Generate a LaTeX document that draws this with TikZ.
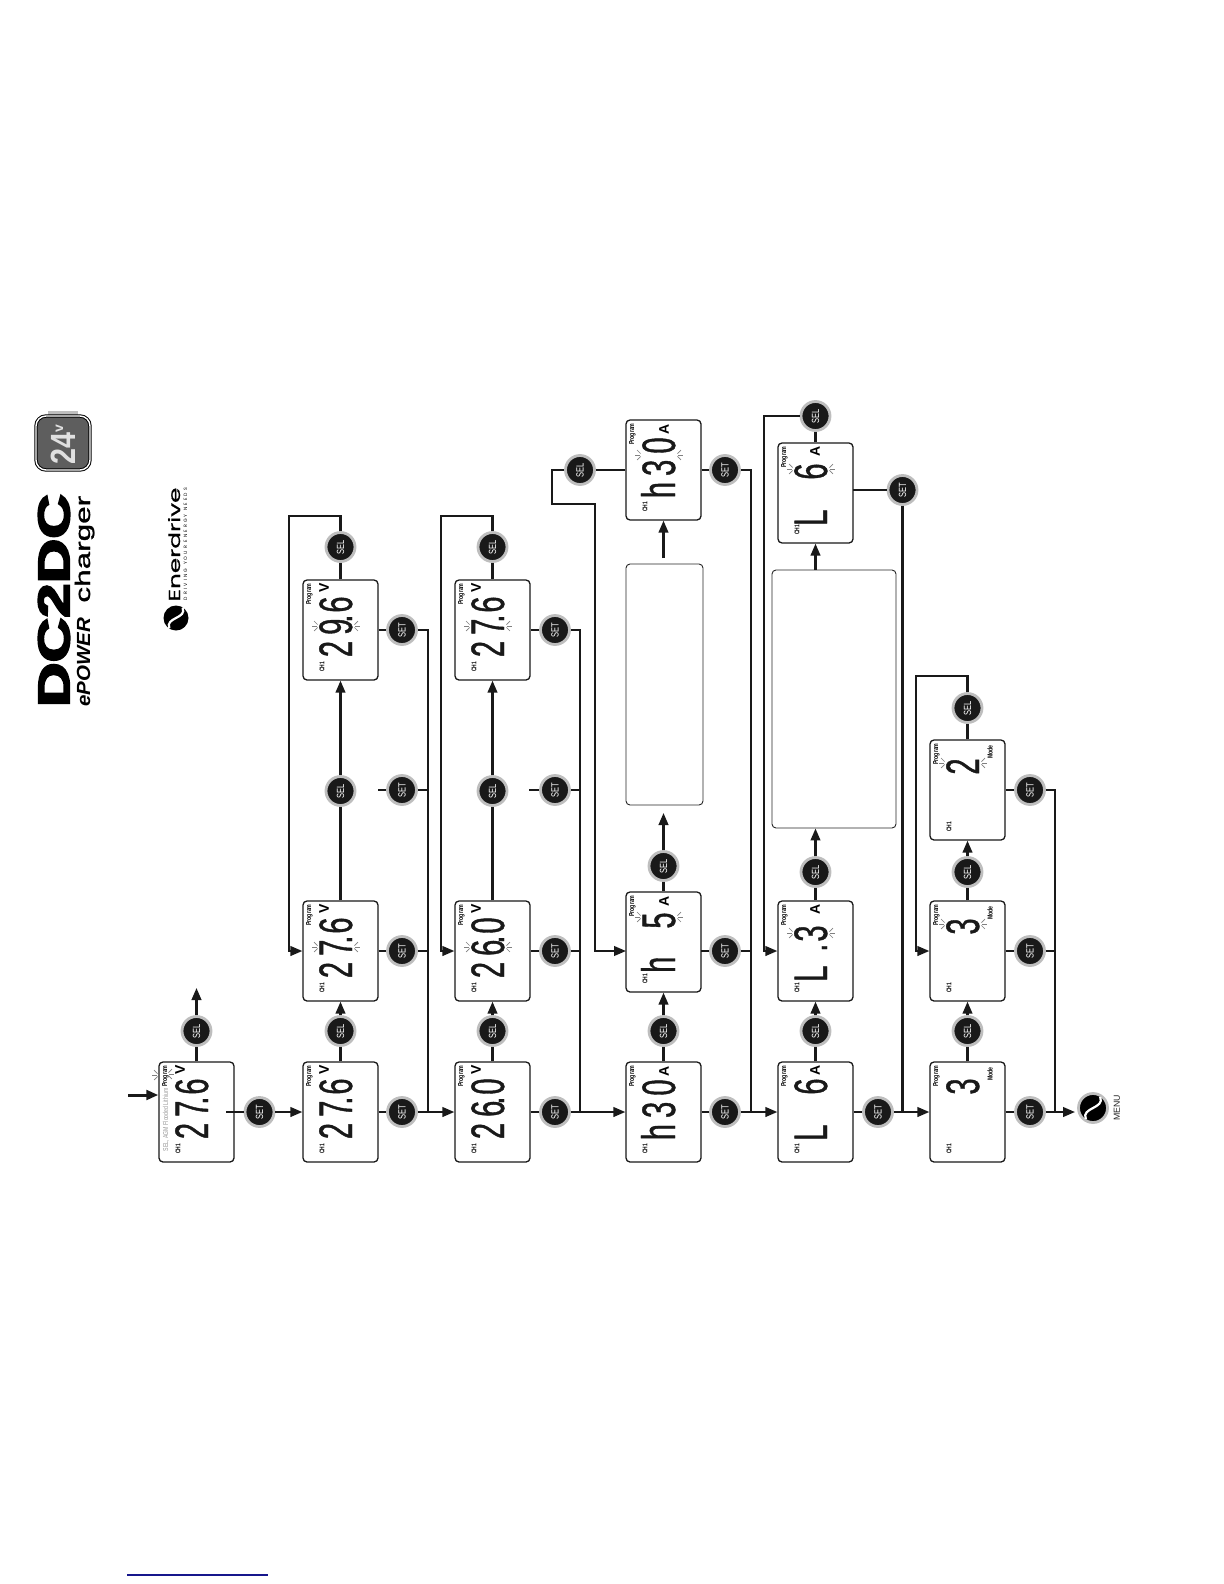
\documentclass[tikz,border=0pt]{standalone}
\usepackage{graphicx}
\usepackage{fontspec}
\setmainfont{Liberation Sans}
\newfontfamily\lcdface[FakeStretch=.62,LetterSpace=13,FakeBold=.8]{Liberation Sans}
\newfontfamily\narrowface[FakeStretch=.72]{Liberation Sans}
\newfontfamily\brandface[FakeBold=4]{Liberation Sans}
\newfontfamily\chargerface[FakeBold=1]{Liberation Sans}
\newfontfamily\logoface[FakeBold=.6]{Poppins}
\newfontfamily\tagface[LetterSpace=45]{Poppins}
\usetikzlibrary{positioning,arrows.meta,calc,backgrounds}
\definecolor{rim}{HTML}{BEBEBE}
\definecolor{badge}{HTML}{5E5E5E}
\definecolor{rule}{HTML}{16168C}
\tikzset{
  panel/.style   ={rectangle, draw=black!90, rounded corners=2pt, line width=0.65pt,
                   minimum width=37.5pt, minimum height=50pt, inner sep=0pt},
  blankbox/.style={rectangle, draw=black!85, rounded corners=2pt, line width=0.45pt, inner sep=0pt},
  button/.style  ={circle, fill=black!90, draw=rim, line width=1.4pt, minimum size=14.5pt,
                   inner sep=0pt, text=white, rotate=90,
                   font=\narrowface\fontsize{5.2}{5}\selectfont},
  turned/.style  ={rotate=90, inner sep=0pt},
  figures/.style ={turned, anchor=base east, text=black!90,
                   font=\lcdface\fontsize{23.5}{24}\selectfont},
  prglabel/.style={turned, anchor=base east, font=\narrowface\bfseries\fontsize{3.6}{4}\selectfont},
  unitlabel/.style={turned, font=\bfseries\fontsize{7}{8}\selectfont},
  flash/.style   ={draw=black!50, line width=0.35pt},
  flow/.style    ={draw=black!90, line width=1.1pt},
  flowto/.style  ={flow, -{Triangle[length=6pt,width=4.8pt]}},
}
\def\lcddot{\makebox[0pt]{.}\kern3pt}
\def\modelabel{{\narrowface\bfseries\fontsize{3.6}{4}\selectfont Mode}}
% name/left/top/reading/gap above reading/unit/unit x/unit y
\def\panellist{%
  pA/159/1062/27\lcddot 6/16/V/21/8,
  pBa/303/1062/27\lcddot 6/16/V/21/8, pBb/303/901/27\lcddot 6/16/V/21/8, pBc/303/580/29\lcddot 6/16/V/21/8,
  pCa/455/1062/26\lcddot 0/16/V/21/8, pCb/455/901/26\lcddot 0/16/V/21/8, pCc/455/580/27\lcddot 6/16/V/21/8,
  pDa/626/1062/h30/17/A/38/9, pDb/626/892/h\kern14pt 5/20/A/38/9, pDc/626/420/h30/17/A/38/9,
  pEa/778/1062/L\kern15pt 6/16/A/37/8, pEb/778/901/L\kern9pt\lcddot 3/24/A/37/8,
  pEc/778/443/L\kern15pt 6/20/A/37/8,
  pFa/930/1062/3/16/\modelabel/60/12, pFb/930/901/3/17/\modelabel/60/12, pFc/930/740/2/18/\modelabel/60/12}
\def\flashlist{pBb/303/901/46, pBc/303/580/46, pCb/455/901/46, pCc/455/580/46,
  pDb/626/892/25, pDc/626/420/35, pEb/778/901/32, pEc/778/443/26,
  pFb/930/901/23, pFc/930/740/23}
\def\setlist{setA/259.5/1112, setBa/402/1112, setBb/402/951, setBm/402/790, setBc/402/630,
  setCa/555/1112, setCb/555/951, setCm/555/790, setCc/555/630,
  setDa/725/1112, setDb/725/951, setDc/725/470,
  setEa/878/1112, setEc/902.5/490,
  setFa/1030/1112, setFb/1030/951, setFc/1030/790}
\def\sellist{selA/196.5/1031, selBa/340.5/1031, selBb/340.5/791, selBc/340.5/547,
  selCa/492.5/1031, selCb/492.5/791, selCc/492.5/547,
  selDa/663.5/1031, selDb/663.5/866, selDc/580/470,
  selEa/815.5/1031, selEb/815.5/872, selEc/815.5/416,
  selFa/967.5/1031, selFb/967.5/872, selFc/967.5/708}
\newcommand{\lcdpanel}[7]{% #1 = node name, #2 = shift coordinate
  \begin{scope}[shift={#2}]
    \node[panel] (#1) at (37.5,50) {};
    \node[figures] at (49,#4) {#3};
    \node[prglabel] at (8,3) {Program};
    \node[turned,font=\narrowface\bfseries\fontsize{3.4}{4}\selectfont] at (19,87) {CH1};
    \node[unitlabel] at (#6,#7) {#5};
  \end{scope}}
\newcommand{\lcdflash}[3]{% #1 = left group, #2 = right group, #3 = gap to the rays
  \foreach \a in {135,180,225}
    {\draw[flash] #1 ++(\a:#3) -- ++(\a:5);}
  \foreach \a in {45,0,-45}
    {\draw[flash] #2 ++(\a:#3) -- ++(\a:5);}}
\newcommand{\swirl}[2]{% #1 = centre, #2 = radius
  \begin{scope}[shift={#1},scale=#2]
    \draw[white,line width=1.1pt] (.55,-.85) .. controls (.95,.05) and (-.95,-.05) .. (-.55,.85);
  \end{scope}}

\begin{document}
\begin{tikzpicture}[x=.5pt,y=-.5pt]
\useasboundingbox (0,0) rectangle (1224,1584);
\fill[white] (0,0) rectangle (1224,1584);
% header
\node[fill=rim,minimum width=15pt,minimum height=2pt,inner sep=0pt] (tab) at (63,413) {};
\node[draw=black,fill=badge,rounded corners=5pt,double=white,double distance=.7pt,line width=.5pt,
      minimum size=27pt,inner sep=0pt] (badge24) at (63,443) {};
\node[turned,text=black!12,font=\bfseries\fontsize{17.5}{18}\selectfont] (volts) at (63,445)
      {\scalebox{.82}[1]{24}\raisebox{6pt}{\fontsize{7}{7}\selectfont v}};
\node[turned] (brand) at (54,600.5)
      {\resizebox{106.5pt}{15.5pt}{\brandface\bfseries DC2DC}};
\node[turned,anchor=base west,font=\bfseries\itshape\fontsize{9.5}{10}\selectfont] (epower) at (90,707)
      {\scalebox{1.08}[1]{ePOWER}};
\node[turned,anchor=base west,font=\chargerface\fontsize{10.5}{11}\selectfont] (chg) at (90,603)
      {\scalebox{1.5}[1]{charger}};
\node[turned,anchor=base west] (maker) at (180,602) {\resizebox{57pt}{6pt}{\logoface Enerdrive}};
\node[turned] (motto) at (185.5,544) {\resizebox{56pt}{!}{\tagface DRIVING YOUR ENERGY NEEDS}};
\node[circle,fill=black,minimum size=12.5pt,inner sep=0pt] (mark) at (176,618) {};
\swirl{(176,618)}{12}
% panels and their blinking marks
\foreach \n/\x/\y/\rd/\gp/\unitl/\ux/\uy in \panellist
  {\lcdpanel{\n}{(\x,\y)}{\rd}{\gp}{\unitl}{\ux}{\uy}}
\foreach \n/\x/\y/\o in \flashlist
  {\lcdflash{(\x+16,\y+\o)}{(\x+50,\y+\o)}{2}}
\node[prglabel,text=black!40,font=\narrowface\fontsize{3.6}{4}\selectfont] (modes) at (168,1088) {SEL, AGM Flooded Lithium};
\lcdflash{(159,1075)}{(167,1074)}{2}
\node[blankbox,minimum width=38.5pt,minimum height=120.5pt] (noteD) at (664.5,684.5) {};
\node[blankbox,minimum width=62pt,minimum height=129pt] (noteE) at (834,699) {};
% buttons
\foreach \n/\x/\y in \setlist {\node[button] (\n) at (\x,\y) {SET};}
\foreach \n/\x/\y in \sellist {\node[button] (\n) at (\x,\y) {SEL};}
\node[circle,fill=black,draw=rim,line width=1.4pt,minimum size=14.5pt,inner sep=0pt] (menu) at (1093,1108) {};
\swirl{(1093,1108)}{13}
\node[turned,text=black!85,font=\fontsize{4.4}{5}\selectfont] (menutxt) at (1117,1108) {MENU};
% free ends and corners
\coordinate (inA) at (128,1095);
\coordinate (upA) at (196.5,988);
\coordinate (outA) at (226,1112);
\coordinate (busB) at (428,1112);
\coordinate (busC) at (580,1112);
\coordinate (busD) at (751,1112);
\coordinate (busE) at (902.5,1112);
\coordinate (busF) at (1055,1112);
\coordinate (stubB) at (378,790);
\coordinate (stubC) at (529,790);
\coordinate (loopB) at (289,516);
\coordinate (loopC) at (441,516);
\coordinate (turnD) at (552,504);
\coordinate (loopD) at (595,504);
\coordinate (loopE) at (764,416);
\coordinate (loopF) at (916,676);
\coordinate (inDb) at (626,951);
\coordinate (outDb) at (701,951);
\coordinate (outEc) at (853,490);
\coordinate (aimDa) at (663.5,813);
\coordinate (aimDb) at (663.5,558);
\coordinate (menuin) at (1075,1112);
% entry
\draw[flowto,line width=1.5pt] (inA) -- (pA.west |- inA);
\draw[flow] (pA.north) -- (selA);
\draw[flowto] (selA) -- (upA);
\draw[flow] (outA) -- (setA);
\draw[flowto] (setA) -- (pBa.west);
% second column
\draw[flow] (pBa.north) -- (selBa);
\draw[flowto] (selBa) -- (pBb.south);
\draw[flow] (pBb.north) -- (selBb);
\draw[flowto] (selBb) -- (pBc.south);
\draw[flow] (pBc.north) -- (selBc);
\draw[flowto] (selBc) |- (loopB) |- (pBb.west);
\draw[flow] (pBa.east) -- (setBa);
\draw[flow] (pBb.east) -- (setBb);
\draw[flow] (stubB) -- (setBm);
\draw[flow] (pBc.east) -- (setBc);
\draw[flow] (setBc) -| (busB);
\draw[flow] (setBb) -- (setBb -| busB);
\draw[flow] (setBm) -- (setBm -| busB);
\draw[flowto] (setBa) -- (pCa.west);
% third column
\draw[flow] (pCa.north) -- (selCa);
\draw[flowto] (selCa) -- (pCb.south);
\draw[flow] (pCb.north) -- (selCb);
\draw[flowto] (selCb) -- (pCc.south);
\draw[flow] (pCc.north) -- (selCc);
\draw[flowto] (selCc) |- (loopC) |- (pCb.west);
\draw[flow] (pCa.east) -- (setCa);
\draw[flow] (pCb.east) -- (setCb);
\draw[flow] (stubC) -- (setCm);
\draw[flow] (pCc.east) -- (setCc);
\draw[flow] (setCc) -| (busC);
\draw[flow] (setCb) -- (setCb -| busC);
\draw[flow] (setCm) -- (setCm -| busC);
\draw[flowto] (setCa) -- (pDa.west);
% fourth column
\draw[flow] (pDa.north) -- (selDa);
\draw[flowto] (selDa) -- (pDb.south);
\draw[flow] (pDb.north) -- (selDb);
\draw[flowto] (selDb) -- (aimDa);
\draw[flowto] (aimDb) -- (pDc.south);
\draw[flow] (pDc.west) -- (selDc);
\draw[flowto] (selDc) -| (turnD) -- (loopD) |- (inDb);
\draw[flow] (pDa.east) -- (setDa);
\draw[flow] (outDb) -- (setDb);
\draw[flow] (pDc.east) -- (setDc);
\draw[flow] (setDc) -| (busD);
\draw[flow] (setDb) -- (setDb -| busD);
\draw[flowto] (setDa) -- (pEa.west);
% fifth column
\draw[flow] (pEa.north) -- (selEa);
\draw[flowto] (selEa) -- (pEb.south);
\draw[flow] (pEb.north) -- (selEb);
\draw[flowto] (selEb) -- (selEb |- noteE.south);
\draw[flowto] (noteE.north -| pEc) -- (pEc.south);
\draw[flow] (pEc.north) -- (selEc);
\draw[flowto] (selEc) -- (loopE) |- (pEb.west);
\draw[flow] (outEc) -- (setEc);
\draw[flow] (setEc) -- (busE);
\draw[flow] (pEa.east) -- (setEa);
\draw[flowto] (setEa) -- (pFa.west);
% sixth column
\draw[flow] (pFa.north) -- (selFa);
\draw[flowto] (selFa) -- (pFb.south);
\draw[flow] (pFb.north) -- (selFb);
\draw[flowto] (selFb) -- (pFc.south);
\draw[flow] (pFc.north) -- (selFc);
\draw[flowto] (selFc) |- (loopF) |- (pFb.west);
\draw[flow] (pFa.east) -- (setFa);
\draw[flow] (pFb.east) -- (setFb);
\draw[flow] (pFc.east) -- (setFc);
\draw[flow] (setFc) -| (busF);
\draw[flow] (setFb) -- (setFb -| busF);
\draw[flowto] (setFa) -- (menuin);
% rule at the foot of the page
\coordinate (ruleL) at (127,1575);
\coordinate (ruleR) at (268,1575);
\draw[rule,line width=.6pt] (ruleL) -- (ruleR);
\end{tikzpicture}
\end{document}
